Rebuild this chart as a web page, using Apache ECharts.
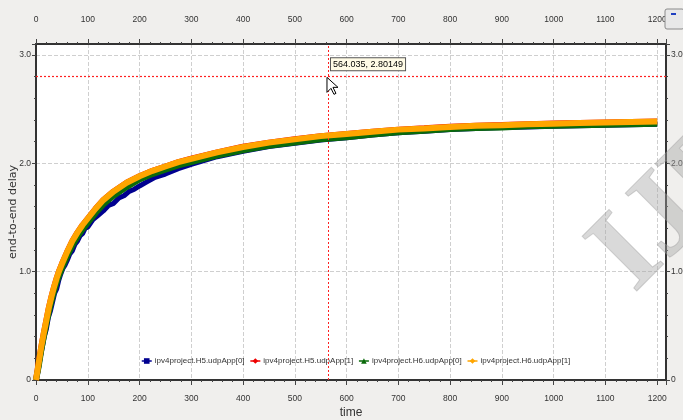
<!DOCTYPE html>
<html>
<head>
<meta charset="utf-8">
<script src="https://cdn.jsdelivr.net/npm/echarts@6/dist/echarts.min.js"></script>
<style>
html,body{margin:0;padding:0;background:#f0efed;}
#c{width:683px;height:420px;}
</style>
</head>
<body>
<div id="c"></div>
<script>
// ---- data ----
const seriesNames = ['ipv4project.H5.udpApp[0]','ipv4project.H5.udpApp[1]','ipv4project.H6.udpApp[0]','ipv4project.H6.udpApp[1]'];
const xTicks = [0,100,200,300,400,500,600,700,800,900,1000,1100,1200];
const yTicks = [0,1.0,2.0,3.0];

const timeBlue = [0,4,8,12,16,20,24,28,32,36,40,44,48,52,56,60,65,70,75,80,85,90,95,100,110,120,130,140,150,160,170,180,190,200,215,230,250,275,300,350,400,450,500,550,600,650,700,750,800,850,900,950,1000,1050,1100,1150,1200];
const h5app0 = [0,0.08,0.20,0.30,0.40,0.47,0.58,0.64,0.72,0.80,0.84,0.92,0.98,1.03,1.06,1.10,1.16,1.19,1.25,1.28,1.33,1.35,1.40,1.41,1.48,1.52,1.56,1.61,1.63,1.68,1.70,1.74,1.76,1.79,1.83,1.87,1.90,1.95,1.99,2.06,2.11,2.155,2.185,2.215,2.235,2.26,2.28,2.295,2.31,2.32,2.33,2.335,2.34,2.345,2.35,2.355,2.36];

const timeMain = [0,5,10,15,20,25,30,35,40,45,50,60,70,80,90,100,115,130,150,175,200,225,250,275,300,350,400,450,500,550,600,650,700,750,800,850,900,950,1000,1050,1100,1150,1200];
const h5app1 = [0,0.15,0.30,0.43,0.55,0.67,0.77,0.86,0.94,1.01,1.07,1.18,1.28,1.36,1.43,1.49,1.58,1.66,1.74,1.82,1.88,1.93,1.97,2.01,2.042,2.10,2.152,2.19,2.222,2.25,2.27,2.29,2.31,2.322,2.337,2.345,2.352,2.36,2.366,2.37,2.376,2.38,2.386];
const h6app0 = [0,0.12,0.27,0.40,0.52,0.63,0.73,0.82,0.90,0.97,1.03,1.14,1.24,1.32,1.39,1.45,1.54,1.62,1.70,1.78,1.85,1.90,1.94,1.98,2.01,2.07,2.12,2.16,2.19,2.22,2.24,2.265,2.285,2.30,2.315,2.325,2.33,2.34,2.345,2.35,2.355,2.36,2.365];
const h6app1 = [0,0.15,0.30,0.43,0.55,0.67,0.77,0.86,0.94,1.01,1.07,1.18,1.28,1.36,1.43,1.49,1.58,1.66,1.74,1.82,1.88,1.93,1.97,2.01,2.04,2.10,2.15,2.19,2.22,2.25,2.27,2.29,2.31,2.32,2.335,2.345,2.35,2.36,2.365,2.37,2.375,2.38,2.385];

const cursorX = 564.035, cursorY = 2.80149;
// --------------------------------------

const fontN = "'Liberation Sans',Arial,sans-serif";
const txtN = {fontFamily: fontN};
const pairs = (ts, vs) => ts.map((t, i) => [t, vs[i]]);
const fmtY = v => (v === 0 ? '0' : v.toFixed(1));

const chart = echarts.init(document.getElementById('c'), null, {renderer: 'canvas'});

function xAx(pos) {
  const top = pos === 'top';
  return {
    type: 'value', position: pos, min: 0, max: 1217, interval: 100,
    name: top ? '' : 'time', nameLocation: 'middle', nameGap: 27, nameMoveOverlap: false,
    nameTextStyle: {fontFamily: fontN, fontSize: 12, color: '#333'},
    axisLine: {show: true, onZero: false, lineStyle: {color: '#333', width: 2}},
    axisTick: {show: true, length: 5, lineStyle: {color: '#444'}},
    minorTick: {show: true, splitNumber: 5, length: 2, lineStyle: {color: '#444'}},
    axisLabel: Object.assign({}, txtN, {fontSize: 8.5, color: '#333', margin: top ? 20 : 14, showMaxLabel: false,
      formatter: v => (xTicks.indexOf(v) >= 0 ? String(v) : '')}),
    splitLine: {show: !top, lineStyle: {type: 'dashed', color: '#cfcfcf', width: 1}}
  };
}
function yAx(pos) {
  const left = pos === 'left';
  return {
    type: 'value', position: pos, min: 0, max: 3.1, interval: 1,
    name: left ? 'end-to-end delay' : '', nameLocation: 'middle', nameGap: 17, nameMoveOverlap: false,
    nameTextStyle: {fontFamily: "'DejaVu Sans',sans-serif", fontSize: 11, color: '#333'},
    axisLine: {show: true, onZero: false, lineStyle: {color: '#333', width: 2}},
    axisTick: {show: true, length: 4, lineStyle: {color: '#444'}},
    minorTick: {show: true, splitNumber: 5, length: 2, lineStyle: {color: '#444'}},
    axisLabel: Object.assign({}, txtN, {fontSize: 8.5, color: '#333', margin: 5, showMaxLabel: false,
      formatter: v => (yTicks.indexOf(v) >= 0 ? fmtY(v) : '')}),
    splitLine: {show: left, lineStyle: {type: 'dashed', color: '#cfcfcf', width: 1}}
  };
}

const option = {
  animation: false,
  backgroundColor: '#f0efed',
  grid: {left: 36, right: 17, top: 44, bottom: 40, containLabel: false, outerBoundsMode: 'none',
    show: true, backgroundColor: '#ffffff', borderWidth: 0},
  xAxis: [xAx('bottom'), xAx('top')],
  yAxis: [yAx('left'), yAx('right')],
  legend: {
    left: 141, top: 357, itemWidth: 10, itemHeight: 7, itemGap: 5, padding: 0,
    textStyle: {fontFamily: fontN, fontSize: 8, color: '#333', padding: [0, 0, 0, -2]},
    lineStyle: {width: 1.5},
    data: seriesNames
  },
  series: [
    {name: seriesNames[0], type: 'line', data: pairs(timeBlue, h5app0), showSymbol: false, symbol: 'rect', symbolSize: 6,
      lineStyle: {width: 5, color: '#000090'}, itemStyle: {color: '#000090'}, z: 2},
    {name: seriesNames[1], type: 'line', data: pairs(timeMain, h5app1), showSymbol: false, symbol: 'diamond', symbolSize: 8,
      lineStyle: {width: 6, color: '#ee0000'}, itemStyle: {color: '#ee0000'}, z: 3},
    {name: seriesNames[2], type: 'line', data: pairs(timeMain, h6app0), showSymbol: false, symbol: 'triangle', symbolSize: 8,
      lineStyle: {width: 6, color: '#0a6a0a'}, itemStyle: {color: '#0a6a0a'}, z: 4},
    {name: seriesNames[3], type: 'line', data: pairs(timeMain, h6app1), showSymbol: false, symbol: 'diamond', symbolSize: 8,
      lineStyle: {width: 6, color: '#ffa500'}, itemStyle: {color: '#ffa500'}, z: 5,
      markLine: {silent: true, symbol: 'none', label: {show: false}, animation: false,
        lineStyle: {color: '#ff2020', type: [2, 2], width: 1},
        data: [
          {xAxis: cursorX, lineStyle: {color: '#ff2020', type: [2, 2], width: 1}},
          {yAxis: cursorY, lineStyle: {color: '#ff2020', type: [2, 2], width: 1.2}}
        ]},
      markPoint: {silent: true, symbol: 'rect', symbolSize: 0, animation: false,
        data: [{coord: [cursorX, cursorY], value: cursorX + ', ' + cursorY}],
        label: {show: true, position: [3, -18], formatter: p => p.value,
          fontFamily: fontN, fontSize: 9, color: '#000', backgroundColor: '#fffbe6',
          borderColor: '#555', borderWidth: 1, padding: [2, 2, 1, 2]}}
    }
  ]
};
chart.setOption(option);

// decorations: mouse cursor, watermark, corner button
const p = chart.convertToPixel({xAxisIndex: 0, yAxisIndex: 0}, [cursorX, cursorY]);
const px = p[0] - 1, py = p[1] + 1;
chart.setOption({
  graphic: [
    {type: 'text', z: 100, left: 570, top: 100, rotation: Math.PI / 4, originX: 0, originY: 0,
      style: {text: 'IJE', font: "bold 118px 'Liberation Serif', serif", fill: 'rgba(165,165,165,0.42)',
        stroke: 'rgba(150,150,150,0.4)', lineWidth: 1}},
    {type: 'polygon', z: 101, shape: {points: [[px, py], [px, py + 15], [px + 4, py + 11], [px + 7, py + 17], [px + 9, py + 16], [px + 6, py + 10], [px + 11, py + 10]]},
      style: {fill: '#ffffff', stroke: '#000', lineWidth: 1}},
    {type: 'rect', z: 101, shape: {x: 665, y: 9, width: 19, height: 20, r: 2},
      style: {fill: '#e8e8e8', stroke: '#8a8a8a', lineWidth: 1}},
    {type: 'rect', z: 102, shape: {x: 671, y: 13, width: 5, height: 2},
      style: {fill: '#2040c0'}}
  ]
});
</script>
</body>
</html>
